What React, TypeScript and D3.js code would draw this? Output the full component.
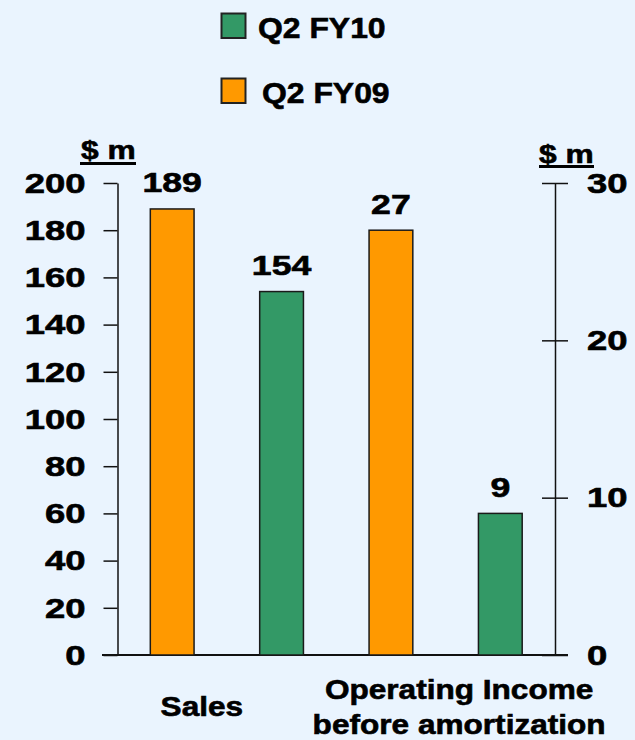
import React from "react";
import * as d3 from "d3";

const categories = ["Sales", "Operating Income before amortization"];
const categoryLines = [["Sales"], ["Operating Income", "before amortization"]];
const seriesNames = ["Q2 FY09", "Q2 FY10"];
const fy09 = [189, 27];
const fy10 = [154, 9];
const leftTicks = [0, 20, 40, 60, 80, 100, 120, 140, 160, 180, 200];
const rightTicks = [0, 10, 20, 30];
const legendOrder = ["Q2 FY10", "Q2 FY09"];

const colors: Record<string, string> = { "Q2 FY09": "#FF9900", "Q2 FY10": "#339966" };
const FONT = "'Liberation Sans', Arial, sans-serif";

const App = () => {
  const svgRef = React.useRef(null);
  const width = 635;
  const height = 740;

  React.useEffect(() => {
    const svg = d3.select(svgRef.current);
    svg.selectAll("*").remove();

    const plotLeft = 117.5, plotRight = 555, top = 183, bottom = 655;

    const yLeft = d3.scaleLinear().domain([0, 200]).range([bottom, top]);
    const yRight = d3.scaleLinear().domain([0, 30]).range([bottom, top]);
    const xGroup = d3.scaleBand().domain(categories).range([plotLeft, plotRight]).padding(0);
    const xSeries = d3.scaleBand().domain(seriesNames)
      .range([0, xGroup.bandwidth()]).paddingInner(0.6).paddingOuter(0.3);

    svg.append("rect").attr("width", width).attr("height", height).attr("fill", "#EAF4FE");

    // stretched bold text like the original slide
    const label = (g: any, txt: string, x: number, y: number, size: number, sx: number, anchor: string) =>
      g.append("text")
        .attr("transform", `translate(${x},${y}) scale(${sx},1)`)
        .attr("text-anchor", anchor)
        .attr("font-family", FONT)
        .attr("font-weight", "bold")
        .attr("font-size", size)
        .attr("fill", "#000")
        .attr("stroke", "#000")
        .attr("stroke-width", 0.6)
        .text(txt);

    // left axis
    const leftAxis = d3.axisLeft(yLeft).tickValues(leftTicks).tickSize(14).tickSizeOuter(0).tickFormat(d3.format("d"));
    const lg = svg.append("g").attr("transform", `translate(${plotLeft},0)`).call(leftAxis);
    lg.select(".domain").attr("stroke", "#111").attr("stroke-width", 1.5);
    lg.selectAll("line").attr("stroke", "#111").attr("stroke-width", 1.5);
    lg.selectAll("text").remove();
    leftTicks.forEach((t) => label(svg, String(t), 85.5, yLeft(t) + 9.7, 27, 1.35, "end"));

    // right axis
    const rightAxis = d3.axisRight(yRight).tickValues(rightTicks).tickSize(13).tickSizeOuter(0);
    const rg = svg.append("g").attr("transform", `translate(${plotRight},0)`).call(rightAxis);
    rg.select(".domain").attr("stroke", "#111").attr("stroke-width", 1.5);
    rg.selectAll("line").attr("x1", -13).attr("stroke", "#111").attr("stroke-width", 1.5);
    rg.selectAll("text").remove();
    rightTicks.forEach((t) => label(svg, String(t), 587, yRight(t) + 9.7, 27, 1.35, "start"));

    // baseline
    svg.append("line")
      .attr("x1", 102).attr("x2", 568).attr("y1", bottom).attr("y2", bottom)
      .attr("stroke", "#111").attr("stroke-width", 2);

    // bars
    const rows = categories.map((c, i) => ({
      category: c,
      scale: i === 0 ? yLeft : yRight,
      values: [
        { name: "Q2 FY09", value: fy09[i] },
        { name: "Q2 FY10", value: fy10[i] },
      ],
    }));
    rows.forEach((row) => {
      const g = svg.append("g").attr("transform", `translate(${xGroup(row.category)},0)`);
      g.selectAll("rect")
        .data(row.values)
        .enter()
        .append("rect")
        .attr("x", (d) => xSeries(d.name) as number)
        .attr("width", xSeries.bandwidth())
        .attr("y", (d) => row.scale(d.value))
        .attr("height", (d) => bottom - row.scale(d.value))
        .attr("fill", (d) => colors[d.name])
        .attr("stroke", "#1a1a1a")
        .attr("stroke-width", 1.5);
      row.values.forEach((d) => {
        const cx = (xSeries(d.name) as number) + xSeries.bandwidth() / 2;
        label(g, String(d.value), cx, row.scale(d.value) - 16.5, 27, 1.32, "middle");
      });
    });

    // category labels
    const catOffsets = [-25, 13.5];
    const catBaselines = [[715.5], [698.5, 733.5]];
    categories.forEach((c, i) => {
      const cx = (xGroup(c) as number) + xGroup.bandwidth() / 2 + catOffsets[i];
      categoryLines[i].forEach((line, j) => label(svg, line, cx, catBaselines[i][j], 27, 1.17, "middle"));
    });

    // unit labels
    [[108.3, 159.3, 80, 136, 163.5], [566.3, 163, 539, 594, 166.5]].forEach(([cx, by, x1, x2, uy]) => {
      label(svg, "$ m", cx, by, 26, 1.22, "middle");
      svg.append("line").attr("x1", x1).attr("x2", x2).attr("y1", uy).attr("y2", uy)
        .attr("stroke", "#000").attr("stroke-width", 3);
    });

    // legend
    const legendY = d3.scalePoint().domain(legendOrder).range([13.5, 78.5]);
    legendOrder.forEach((name, i) => {
      const y = legendY(name) as number;
      svg.append("rect")
        .attr("x", 221.5).attr("y", y).attr("width", 24).attr("height", 24.5)
        .attr("fill", colors[name]).attr("stroke", "#222").attr("stroke-width", 2);
      label(svg, name, i === 0 ? 258 : 262, y + 24.2, 29, 1.1, "start");
    });
  }, []);

  return (
    <svg
      ref={svgRef}
      width={width}
      height={height}
      style={{ position: "absolute", left: 0, top: 0 }}
    />
  );
};

export default App;
